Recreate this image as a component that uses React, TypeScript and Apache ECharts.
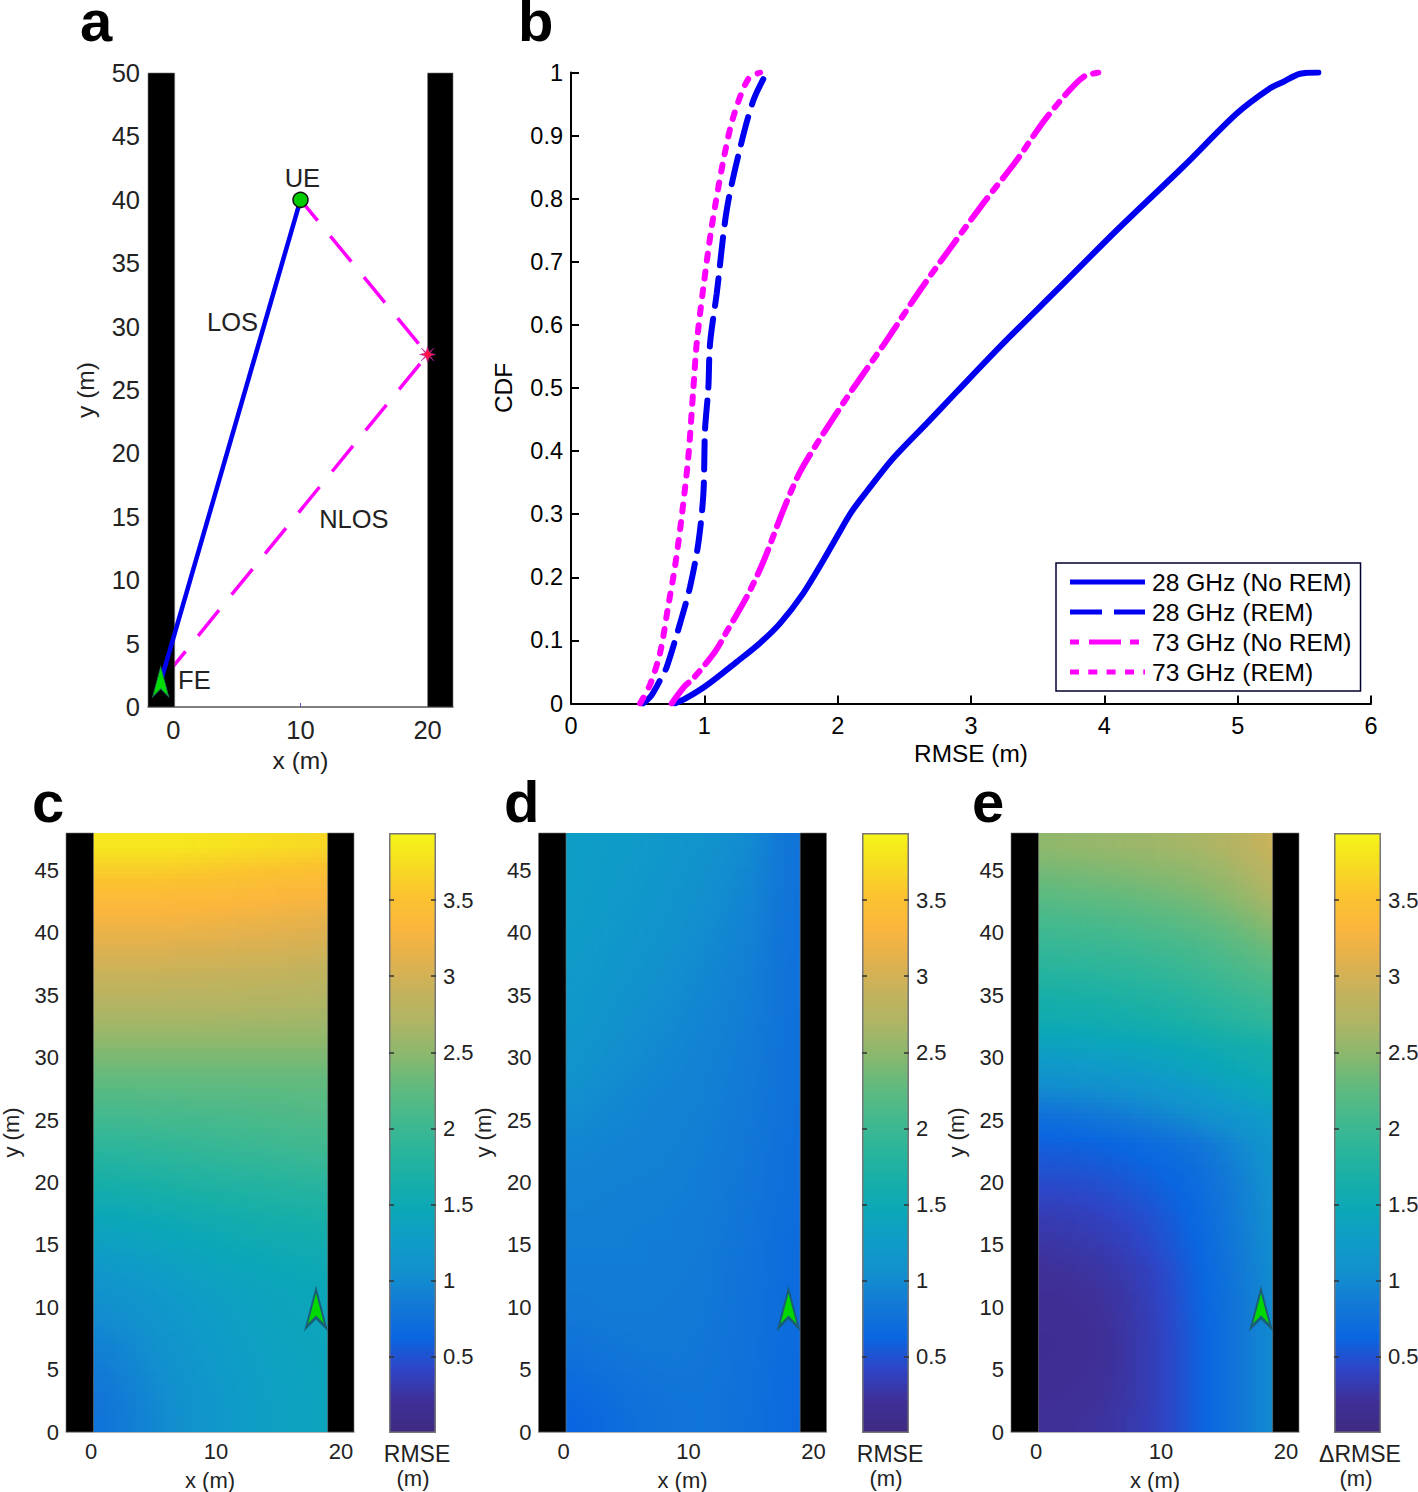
import React, { useEffect, useRef } from "react";
import * as echarts from "echarts";

const FONT = '"Liberation Sans", Arial, sans-serif';

// Panel b: CDF curves, [RMSE, CDF]
const curve28NoRem = [[0.78,0],[0.86,0.008],[1.018,0.029],[1.243,0.066],[1.418,0.096],[1.568,0.127],[1.743,0.175],[1.893,0.227],[1.993,0.264],[2.105,0.304],[2.218,0.336],[2.418,0.389],[2.668,0.444],[2.893,0.494],[3.243,0.571],[3.643,0.655],[4.093,0.75],[4.593,0.851],[4.993,0.935],[5.243,0.975],[5.34,0.985],[5.468,0.998],[5.605,1]];
const curve28Rem = [[0.54,0],[0.6,0.012],[0.668,0.037],[0.718,0.058],[0.818,0.127],[0.893,0.185],[0.955,0.254],[0.993,0.333],[1.005,0.433],[1.03,0.5],[1.043,0.571],[1.093,0.65],[1.168,0.782],[1.268,0.88],[1.368,0.956],[1.468,1]];
const curve73NoRem = [[0.755,0],[0.855,0.028],[0.918,0.04],[1.08,0.082],[1.168,0.114],[1.318,0.169],[1.443,0.225],[1.593,0.307],[1.718,0.367],[1.893,0.428],[2.118,0.5],[2.343,0.568],[2.618,0.655],[2.843,0.721],[3.093,0.793],[3.343,0.861],[3.543,0.922],[3.718,0.967],[3.843,0.993],[3.955,1]];
const curve73Rem = [[0.518,0],[0.593,0.03],[0.668,0.08],[0.728,0.153],[0.78,0.217],[0.83,0.296],[0.88,0.391],[0.918,0.5],[0.943,0.571],[0.993,0.66],[1.055,0.755],[1.143,0.861],[1.218,0.93],[1.33,0.99],[1.418,1]];
const legendNames = ["28 GHz (No REM)", "28 GHz (REM)", "73 GHz (No REM)", "73 GHz (REM)"];
const legendIcons = [
  "path://M0 0H75V5H0Z",
  "path://M0 0H32V5H0Z M44 0H75V5H44Z",
  "path://M0 0H9V5H0Z M19 0H51V5H19Z M60 0H69V5H60Z M75 0V5V0Z",
  "path://M0 0H9V5H0Z M18.3 0H27.3V5H18.3Z M36.6 0H45.6V5H36.6Z M55 0H64V5H55Z M73.3 0H75V5H73.3Z",
];

// Panel a: geometry of the street
const wallsA = [[-2, 0.1, 0, 50], [20, 22, 0, 50]];
const losPath = [[-1, 2], [10, 40]];
const nlosUpper = [[10, 40], [20, 27.8]];
const nlosLower = [[20, 27.8], [-1, 2]];
const uePoint = [[10, 40]];
const reflector = [[20, 27.8]];
const fePoint = [[-1, 2]];
const annotations = [
  { name: "UE", value: [10.15, 41.7] },
  { name: "LOS", value: [4.65, 30.4] },
  { name: "NLOS", value: [14.2, 14.8] },
  { name: "FE", value: [1.65, 2.1] },
];
const xTicks = [0, 10, 20];

// Panels c, d, e: RMSE fields; rows from y=47 to y=1, columns from x=1 to x=19
const cellX = [1, 3, 5, 7, 9, 11, 13, 15, 17, 19];
const cellY = [47, 45, 43, 41, 39, 37, 35, 33, 31, 29, 27, 25, 23, 21, 19, 17, 15, 13, 11, 9, 7, 5, 3, 1];
const fieldC = [
  [3.82,3.82,3.82,3.82,3.80,3.78,3.76,3.74,3.72,3.70],
  [3.62,3.62,3.62,3.60,3.58,3.56,3.54,3.52,3.50,3.48],
  [3.42,3.42,3.42,3.40,3.40,3.38,3.36,3.34,3.32,3.30],
  [3.26,3.26,3.26,3.25,3.24,3.22,3.20,3.18,3.16,3.14],
  [3.10,3.10,3.10,3.08,3.08,3.06,3.05,3.04,3.02,3.00],
  [2.95,2.95,2.95,2.94,2.93,2.92,2.91,2.90,2.88,2.87],
  [2.80,2.80,2.80,2.79,2.79,2.78,2.77,2.76,2.75,2.74],
  [2.65,2.65,2.65,2.65,2.64,2.64,2.63,2.63,2.62,2.62],
  [2.48,2.48,2.48,2.48,2.48,2.48,2.48,2.48,2.48,2.48],
  [2.33,2.33,2.33,2.33,2.33,2.33,2.33,2.33,2.33,2.33],
  [2.18,2.18,2.19,2.19,2.20,2.20,2.21,2.21,2.22,2.22],
  [2.03,2.04,2.05,2.06,2.07,2.08,2.10,2.11,2.13,2.14],
  [1.88,1.89,1.91,1.93,1.95,1.97,1.99,2.01,2.03,2.04],
  [1.73,1.75,1.77,1.80,1.82,1.84,1.86,1.88,1.90,1.91],
  [1.58,1.60,1.63,1.66,1.69,1.71,1.73,1.75,1.77,1.78],
  [1.44,1.46,1.49,1.52,1.55,1.58,1.61,1.63,1.65,1.66],
  [1.32,1.34,1.38,1.41,1.45,1.48,1.51,1.53,1.55,1.56],
  [1.20,1.23,1.27,1.32,1.36,1.40,1.43,1.46,1.48,1.50],
  [1.08,1.13,1.18,1.24,1.29,1.33,1.37,1.40,1.43,1.45],
  [1.00,1.05,1.12,1.19,1.25,1.30,1.34,1.38,1.41,1.43],
  [0.92,0.98,1.06,1.14,1.22,1.27,1.32,1.36,1.39,1.41],
  [0.86,0.93,1.02,1.10,1.18,1.25,1.30,1.34,1.37,1.40],
  [0.81,0.89,0.98,1.07,1.15,1.23,1.29,1.33,1.36,1.39],
  [0.79,0.87,0.96,1.05,1.14,1.22,1.28,1.33,1.36,1.39],
];
const fieldD = [
  [1.28,1.26,1.24,1.20,1.15,1.10,1.04,0.98,0.85,0.76],
  [1.28,1.25,1.22,1.18,1.13,1.07,1.02,0.95,0.84,0.75],
  [1.27,1.24,1.20,1.16,1.10,1.05,1.00,0.93,0.83,0.75],
  [1.26,1.23,1.18,1.13,1.08,1.03,0.97,0.91,0.82,0.74],
  [1.24,1.20,1.15,1.10,1.06,1.00,0.95,0.90,0.81,0.74],
  [1.22,1.18,1.12,1.08,1.03,0.98,0.93,0.88,0.80,0.74],
  [1.20,1.15,1.09,1.05,1.00,0.96,0.92,0.87,0.80,0.73],
  [1.18,1.12,1.06,1.02,0.98,0.94,0.90,0.86,0.79,0.73],
  [1.14,1.08,1.03,0.99,0.96,0.92,0.89,0.85,0.79,0.73],
  [1.10,1.04,1.00,0.97,0.94,0.91,0.88,0.84,0.78,0.73],
  [1.05,1.00,0.97,0.94,0.92,0.90,0.87,0.83,0.78,0.72],
  [1.00,0.97,0.95,0.92,0.91,0.89,0.86,0.82,0.77,0.72],
  [0.96,0.94,0.92,0.91,0.90,0.88,0.85,0.81,0.76,0.71],
  [0.93,0.92,0.91,0.90,0.89,0.87,0.84,0.80,0.75,0.71],
  [0.91,0.90,0.89,0.89,0.88,0.87,0.83,0.79,0.74,0.70],
  [0.89,0.89,0.88,0.88,0.87,0.86,0.82,0.78,0.73,0.70],
  [0.88,0.88,0.88,0.87,0.87,0.85,0.81,0.77,0.72,0.69],
  [0.87,0.87,0.87,0.87,0.86,0.84,0.80,0.76,0.72,0.69],
  [0.85,0.86,0.86,0.86,0.85,0.83,0.80,0.76,0.71,0.68],
  [0.82,0.84,0.85,0.85,0.84,0.82,0.79,0.75,0.71,0.68],
  [0.77,0.80,0.82,0.83,0.83,0.81,0.78,0.75,0.70,0.67],
  [0.72,0.75,0.78,0.80,0.81,0.80,0.78,0.74,0.70,0.66],
  [0.66,0.70,0.74,0.77,0.79,0.79,0.77,0.74,0.69,0.66],
  [0.62,0.66,0.72,0.76,0.78,0.79,0.77,0.73,0.69,0.65],
];
const fieldE = [
  [2.52,2.54,2.56,2.58,2.60,2.63,2.66,2.72,2.82,2.95],
  [2.38,2.40,2.42,2.44,2.47,2.50,2.54,2.60,2.70,2.82],
  [2.24,2.26,2.28,2.30,2.33,2.37,2.41,2.48,2.58,2.70],
  [2.08,2.10,2.12,2.15,2.18,2.22,2.27,2.33,2.42,2.52],
  [1.95,1.96,1.98,2.00,2.03,2.07,2.12,2.19,2.27,2.36],
  [1.82,1.83,1.85,1.87,1.90,1.94,1.99,2.05,2.13,2.20],
  [1.66,1.68,1.70,1.73,1.76,1.80,1.85,1.91,1.98,2.04],
  [1.54,1.55,1.57,1.60,1.63,1.67,1.72,1.78,1.84,1.89],
  [1.36,1.37,1.39,1.41,1.44,1.48,1.52,1.57,1.61,1.65],
  [1.16,1.18,1.20,1.23,1.27,1.32,1.38,1.44,1.50,1.55],
  [0.94,0.96,0.98,1.02,1.07,1.13,1.20,1.28,1.36,1.42],
  [0.72,0.74,0.78,0.82,0.87,0.93,1.00,1.08,1.16,1.25],
  [0.58,0.59,0.61,0.64,0.68,0.73,0.80,0.90,1.02,1.14],
  [0.50,0.51,0.53,0.56,0.60,0.65,0.72,0.83,0.96,1.10],
  [0.41,0.42,0.45,0.49,0.54,0.60,0.68,0.80,0.93,1.07],
  [0.32,0.34,0.37,0.42,0.48,0.56,0.66,0.78,0.92,1.05],
  [0.26,0.28,0.31,0.36,0.44,0.53,0.63,0.76,0.90,1.03],
  [0.21,0.23,0.26,0.31,0.38,0.49,0.61,0.74,0.88,1.02],
  [0.18,0.19,0.22,0.27,0.36,0.47,0.60,0.73,0.87,1.01],
  [0.16,0.17,0.20,0.26,0.34,0.46,0.59,0.72,0.86,1.01],
  [0.15,0.16,0.19,0.25,0.33,0.45,0.58,0.72,0.86,1.00],
  [0.16,0.17,0.20,0.25,0.33,0.45,0.58,0.72,0.86,1.00],
  [0.18,0.19,0.21,0.26,0.33,0.45,0.58,0.72,0.86,1.00],
  [0.20,0.21,0.23,0.28,0.34,0.45,0.58,0.72,0.86,1.00],
];
const wallsMap = [[-2, 0.2, 0, 48], [18.93, 21.04, 0, 48]];
const arrowPoint = [[18, 9.9]];
const yTicksMap = [0, 5, 10, 15, 20, 25, 30, 35, 40, 45];
const colorTicks = [0.5, 1, 1.5, 2, 2.5, 3, 3.5];
const colorMax = 3.94;
const colormap = ["#3e2a80","#3f3098","#2e45c6","#0a66e0","#1278d6","#128fce","#0f9bc8","#0ba7b8","#17afa8","#2cb59b","#45b98d","#62ba7e","#8bb86d","#aeb565","#c5b25c","#e2b14e","#fbb63d","#fbc230","#f7dc22","#f5f518"];
const panelLabels = [
  { text: "a", x: 80, y: 49 },
  { text: "b", x: 518, y: 49 },
  { text: "c", x: 32, y: 830 },
  { text: "d", x: 504, y: 830 },
  { text: "e", x: 972, y: 830 },
];
const mapPanels = [
  { field: fieldC, dx: 0, barDx: 0, barTitle: "RMSE", titleX: 417, unitX: 413 },
  { field: fieldD, dx: 472.5, barDx: 473, barTitle: "RMSE", titleX: 890, unitX: 886 },
  { field: fieldE, dx: 945, barDx: 945, barTitle: "\u0394RMSE", titleX: 1360, unitX: 1356 },
];
const ARROW = "path://M10 0 L20 38 L10 28 L0 38 Z";
const STAR = "path://M5 0 L6 3.5 L9 1 L6.5 4 L10 5 L6.5 6 L9 9 L6 6.5 L5 10 L4 6.5 L1 9 L3.5 6 L0 5 L3.5 4 L1 1 L4 3.5 Z";
const SHADE_STEPS = 5;

function wallItem(_: any, api: any) {
  const a = api.coord([api.value(0), api.value(3)]);
  const b = api.coord([api.value(1), api.value(2)]);
  return { type: "rect", shape: { x: a[0], y: a[1], width: b[0] - a[0], height: b[1] - a[1] }, style: { fill: "#000", stroke: "#777", lineWidth: 0.6 } };
}

// Shades each read cell towards its neighbours, as MATLAB's "shading interp" does.
function makeCellItem(field: number[][]) {
  const shadeAt = (x: number, y: number) => {
    const fc = Math.min(cellX.length - 1, Math.max(0, (x - cellX[0]) / 2));
    const fr = Math.min(cellY.length - 1, Math.max(0, (cellY[0] - y) / 2));
    const c0 = Math.floor(fc);
    const r0 = Math.floor(fr);
    const c1 = Math.min(cellX.length - 1, c0 + 1);
    const r1 = Math.min(cellY.length - 1, r0 + 1);
    const tc = fc - c0;
    const tr = fr - r0;
    const top = field[r0][c0] * (1 - tc) + field[r0][c1] * tc;
    const bottom = field[r1][c0] * (1 - tc) + field[r1][c1] * tc;
    return top * (1 - tr) + bottom * tr;
  };
  return (_: any, api: any) => {
    const xc = api.value(0);
    const yc = api.value(1);
    const children: any[] = [];
    const step = 2 / SHADE_STEPS;
    for (let i = 0; i < SHADE_STEPS; i++) {
      for (let j = 0; j < SHADE_STEPS; j++) {
        const xa = xc - 1 + i * step;
        const ya = yc + 1 - j * step;
        const a = api.coord([xa, ya]);
        const b = api.coord([xa + step, ya - step]);
        const x0 = Math.round(a[0]);
        const y0 = Math.round(a[1]);
        const v = shadeAt(xa + step / 2, ya - step / 2);
        children.push({ type: "rect", shape: { x: x0, y: y0, width: Math.round(b[0]) - x0, height: Math.round(b[1]) - y0 }, style: { fill: echarts.color.lerp(Math.min(1, v / colorMax), colormap) } });
      }
    }
    return { type: "group", children };
  };
}

function buildOption() {
  const grid: any[] = [];
  const xAxis: any[] = [];
  const yAxis: any[] = [];
  const series: any[] = [];
  const graphic: any[] = [];
  const label = (size: number, color = "#222", margin = 8) => ({ fontFamily: FONT, fontSize: size, color, margin });
  const nameStyle = (size: number, color = "#222") => ({ fontFamily: FONT, fontSize: size, color });

  // Panel a
  grid.push({ left: 148, top: 73, width: 305, height: 634, outerBoundsMode: "none" });
  xAxis.push({ gridIndex: 0, type: "value", min: -2, max: 22, splitLine: { show: false }, name: "x (m)", nameLocation: "middle", nameGap: 41, nameTextStyle: nameStyle(24.5), axisLine: { onZero: false, lineStyle: { color: "#555", width: 1.5 } }, axisTick: { inside: true, length: 4, lineStyle: { color: "#5050c0" }, customValues: [10] }, axisLabel: { ...label(25.5, "#222", 10), customValues: xTicks } });
  yAxis.push({ gridIndex: 0, type: "value", min: 0, max: 50, interval: 5, splitLine: { show: false }, name: "y (m)", nameLocation: "middle", nameGap: 50, nameTextStyle: nameStyle(24.5), axisLine: { show: false }, axisTick: { show: false }, axisLabel: label(25.5, "#222", 8) });
  const lineA = (name: string, data: number[][], color: string, z: number, width: number, type: any, dashOffset = 0) => ({ name, type: "line", xAxisIndex: 0, yAxisIndex: 0, data, symbol: "none", z, lineStyle: { color, width, type, dashOffset } });
  series.push(lineA("NLOS upper", nlosUpper, "#ff00ff", 1, 3.5, [33, 20], 6));
  series.push(lineA("NLOS lower", nlosLower, "#ff00ff", 1, 3.5, [33, 20], 41));
  series.push({ name: "walls a", type: "custom", xAxisIndex: 0, yAxisIndex: 0, renderItem: wallItem, data: wallsA, encode: { x: [0, 1], y: [2, 3] }, z: 2 });
  series.push({ name: "FE", type: "scatter", xAxisIndex: 0, yAxisIndex: 0, data: fePoint, symbol: ARROW, symbolSize: [16, 30], z: 3, itemStyle: { opacity: 1, color: "#00dd00", borderColor: "#1a7a50", borderWidth: 1 } });
  series.push(lineA("LOS", losPath, "#0000f0", 3, 4.5, "solid"));
  series.push({ name: "UE", type: "scatter", xAxisIndex: 0, yAxisIndex: 0, data: uePoint, symbol: "circle", symbolSize: 15, z: 4, itemStyle: { opacity: 1, color: "#00cc00", borderColor: "#111", borderWidth: 1.5 } });
  series.push({ name: "Reflection", type: "scatter", xAxisIndex: 0, yAxisIndex: 0, data: reflector, symbol: STAR, symbolSize: 16, z: 4, itemStyle: { opacity: 1, color: "#ff1040", borderColor: "#a030c0", borderWidth: 0.5 } });
  series.push({ name: "Labels", type: "scatter", xAxisIndex: 0, yAxisIndex: 0, data: annotations, symbolSize: 0, z: 5, itemStyle: { opacity: 1 }, label: { show: true, position: "inside", formatter: "{b}", fontFamily: FONT, fontSize: 25.5, color: "#222" } });

  // Panel b
  grid.push({ left: 571, top: 72.5, width: 800, height: 631, outerBoundsMode: "none" });
  xAxis.push({ gridIndex: 1, type: "value", min: 0, max: 6, interval: 1, splitLine: { show: false }, name: "RMSE (m)", nameLocation: "middle", nameGap: 38, nameTextStyle: nameStyle(24.4, "#000"), axisLine: { lineStyle: { color: "#000", width: 2 } }, axisTick: { inside: true, length: 8, lineStyle: { color: "#000", width: 2 } }, axisLabel: label(23.5, "#000", 10) });
  yAxis.push({ gridIndex: 1, type: "value", min: 0, max: 1, interval: 0.1, splitLine: { show: false }, name: "CDF", nameLocation: "middle", nameGap: 56, nameTextStyle: nameStyle(24.4, "#000"), axisLine: { lineStyle: { color: "#000", width: 2 } }, axisTick: { inside: true, length: 8, lineStyle: { color: "#000", width: 2 } }, axisLabel: { ...label(23.5, "#000", 8), formatter: (v: number) => String(Math.round(v * 10) / 10) } });
  const curve = (name: string, data: number[][], color: string, type: any) => ({ name, type: "line", xAxisIndex: 1, yAxisIndex: 1, data, symbol: "none", smooth: 0.3, z: 3, itemStyle: { color }, lineStyle: { color, width: 6, type, cap: "round" } });
  series.push(curve(legendNames[0], curve28NoRem, "#0000f0", "solid"));
  series.push(curve(legendNames[1], curve28Rem, "#0000f0", [28, 13]));
  series.push(curve(legendNames[2], curve73NoRem, "#ff00ff", [27, 9, 7, 9]));
  series.push(curve(legendNames[3], curve73Rem, "#ff00ff", [7, 11]));

  // Panels c, d, e
  const barStops = colormap.map((color, i) => ({ offset: 1 - i / (colormap.length - 1), color })).reverse();
  mapPanels.forEach((panel, k) => {
    const gMap = grid.length;
    grid.push({ left: 66 + panel.dx, top: 833, width: 288, height: 599, outerBoundsMode: "none" });
    const xMap = xAxis.length;
    xAxis.push({ gridIndex: gMap, type: "value", min: -2, max: 21.04, splitLine: { show: false }, name: "x (m)", nameLocation: "middle", nameGap: 37, nameTextStyle: nameStyle(22), axisLine: { lineStyle: { color: "#999", width: 1.5 } }, axisTick: { show: false }, axisLabel: { ...label(22, "#222", 8), customValues: xTicks } });
    const yMap = yAxis.length;
    yAxis.push({ gridIndex: gMap, type: "value", min: 0, max: 48, splitLine: { show: false }, name: "y (m)", nameLocation: "middle", nameGap: 44, nameTextStyle: nameStyle(22), axisLine: { show: false }, axisTick: { show: false }, axisLabel: { ...label(22, "#222", 7), customValues: yTicksMap } });
    const data: number[][] = [];
    panel.field.forEach((row, r) => row.forEach((v, c) => data.push([cellX[c], cellY[r], v])));
    series.push({ name: "field " + k, type: "custom", silent: true, xAxisIndex: xMap, yAxisIndex: yMap, renderItem: makeCellItem(panel.field), data, encode: { x: 0, y: 1 }, z: 1 });
    series.push({ name: "walls " + k, type: "custom", xAxisIndex: xMap, yAxisIndex: yMap, renderItem: wallItem, data: wallsMap, encode: { x: [0, 1], y: [2, 3] }, z: 2 });
    series.push({ name: "FE " + k, type: "scatter", xAxisIndex: xMap, yAxisIndex: yMap, data: arrowPoint, symbol: ARROW, symbolSize: [20, 38], z: 3, itemStyle: { opacity: 1, color: "#00d800", borderColor: "#1a5f78", borderWidth: 2.5 } });

    // Colour bar
    const gBar = grid.length;
    grid.push({ left: 389 + panel.barDx, top: 833, width: 47, height: 600, outerBoundsMode: "none" });
    const xBar = xAxis.length;
    xAxis.push({ gridIndex: gBar, type: "category", data: [""], show: false });
    const tickAxis = (position: string, showLabel: boolean) => ({ gridIndex: gBar, z: 6, type: "value", position, min: 0, max: colorMax, splitLine: { show: false }, axisLine: { show: false }, axisTick: { show: true, inside: true, length: 5, lineStyle: { color: "#333", width: 1.5 }, customValues: colorTicks }, axisLabel: { show: showLabel, ...label(22, "#222", 7), customValues: colorTicks, formatter: (v: number) => String(v) } });
    const yBar = yAxis.length;
    yAxis.push(tickAxis("right", true));
    yAxis.push(tickAxis("left", false));
    series.push({ name: "colorbar " + k, type: "bar", xAxisIndex: xBar, yAxisIndex: yBar, data: [colorMax], barWidth: "100%", z: 1, itemStyle: { borderColor: "#777", borderWidth: 1.5, color: new echarts.graphic.LinearGradient(0, 0, 0, 1, barStops) } });
    graphic.push({ type: "text", x: panel.titleX, y: 1454, z: 10, style: { text: panel.barTitle, font: `23px ${FONT}`, fill: "#222", textAlign: "center", textVerticalAlign: "middle" } });
    graphic.push({ type: "text", x: panel.unitX, y: 1478, z: 10, style: { text: "(m)", font: `22px ${FONT}`, fill: "#222", textAlign: "center", textVerticalAlign: "middle" } });
  });

  panelLabels.forEach((p) => graphic.push({ type: "text", x: p.x, y: p.y, z: 10, style: { text: p.text, font: `bold 58px ${FONT}`, fill: "#000", textVerticalAlign: "bottom" } }));

  return {
    animation: false,
    backgroundColor: "#fff",
    textStyle: { fontFamily: FONT },
    grid,
    xAxis,
    yAxis,
    series,
    graphic,
    legend: {
      data: legendNames.map((name, i) => ({ name, icon: legendIcons[i] })),
      orient: "vertical",
      left: 1056,
      top: 563,
      padding: [4, 9, 4, 14],
      itemWidth: 75,
      itemHeight: 5,
      itemGap: 0,
      symbolKeepAspect: false,
      itemStyle: { borderWidth: 0 },
      backgroundColor: "#fff",
      borderColor: "#000030",
      borderWidth: 1.5,
      z: 20,
      textStyle: { fontFamily: FONT, fontSize: 24.6, lineHeight: 30, color: "#000", padding: [0, 0, 0, 2] },
      selectedMode: false,
    },
  };
}

export default function App() {
  const ref = useRef<HTMLDivElement>(null);
  useEffect(() => {
    const chart = echarts.init(ref.current!, undefined, { renderer: "svg" });
    chart.setOption(buildOption() as any);
    return () => chart.dispose();
  }, []);
  return <div ref={ref} style={{ position: "absolute", left: 0, top: 0, width: 1418, height: 1492 }} />;
}
